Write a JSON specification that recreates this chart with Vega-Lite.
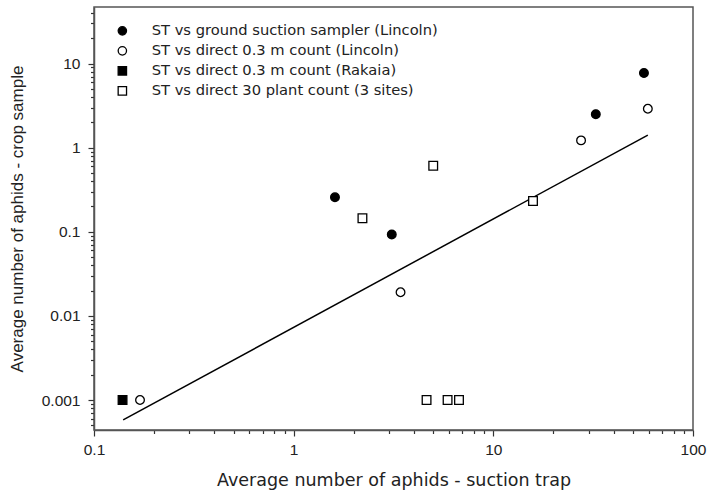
{
  "$schema": "https://vega.github.io/schema/vega-lite/v6.json",
  "width": 599,
  "height": 423,
  "autosize": "none",
  "padding": {"left": 94, "top": 7, "right": 14, "bottom": 65},
  "background": "white",
  "config": {
    "font": "Liberation Sans",
    "view": {"stroke": "#555", "strokeWidth": 1.5},
    "axis": {
      "domainColor": "#555",
      "domainWidth": 1.5,
      "ticks": true,
      "tickColor": "#333",
      "tickWidth": 1.2,
      "labelColor": "#222",
      "labelFontSize": 15.5,
      "titleColor": "#222",
      "titleFontSize": 17,
      "titleFontWeight": "normal",
      "grid": false,
      "labelOverlap": false,
      "labelFlush": false
    },
    "legend": {
      "title": null,
      "orient": "none",
      "legendX": 21,
      "legendY": 16.5,
      "padding": 0,
      "labelFont": "DejaVu Sans",
      "labelFontSize": 14.7,
      "labelColor": "#222",
      "labelOffset": 22,
      "rowPadding": 4,
      "symbolSize": 70,
      "symbolStrokeWidth": 1.3,
      "labelLimit": 400
    }
  },
  "datasets": {
    "pts": [
      {"series": "ST vs ground suction sampler (Lincoln)", "st": 1.61, "crop": 0.257},
      {"series": "ST vs ground suction sampler (Lincoln)", "st": 3.1, "crop": 0.093},
      {"series": "ST vs ground suction sampler (Lincoln)", "st": 32.6, "crop": 2.5},
      {"series": "ST vs ground suction sampler (Lincoln)", "st": 56.8, "crop": 7.7},
      {"series": "ST vs direct 0.3 m count (Lincoln)", "st": 0.17, "crop": 0.001},
      {"series": "ST vs direct 0.3 m count (Lincoln)", "st": 3.43, "crop": 0.0191},
      {"series": "ST vs direct 0.3 m count (Lincoln)", "st": 27.5, "crop": 1.22},
      {"series": "ST vs direct 0.3 m count (Lincoln)", "st": 59.4, "crop": 2.9},
      {"series": "ST vs direct 0.3 m count (Rakaia)", "st": 0.139, "crop": 0.001},
      {"series": "ST vs direct 30 plant count (3 sites)", "st": 2.21, "crop": 0.145},
      {"series": "ST vs direct 30 plant count (3 sites)", "st": 5.0, "crop": 0.61},
      {"series": "ST vs direct 30 plant count (3 sites)", "st": 15.8, "crop": 0.232},
      {"series": "ST vs direct 30 plant count (3 sites)", "st": 4.63, "crop": 0.001},
      {"series": "ST vs direct 30 plant count (3 sites)", "st": 5.9, "crop": 0.001},
      {"series": "ST vs direct 30 plant count (3 sites)", "st": 6.73, "crop": 0.001}
    ],
    "fit": [
      {"st": 0.14, "crop": 0.00058},
      {"st": 59.4, "crop": 1.41}
    ]
  },
  "resolve": {"axis": {"x": "independent", "y": "independent"}},
  "layer": [
    {
      "data": {"name": "fit"},
      "mark": {"type": "point", "opacity": 0},
      "encoding": {
        "x": {
          "field": "st", "type": "quantitative",
          "axis": {
            "orient": "bottom",
            "title": null,
            "labels": false,
            "domain": false,
            "tickSize": 3.5,
            "values": [0.2, 0.3, 0.4, 0.5, 0.6, 0.7, 0.8, 0.9, 2, 3, 4, 5, 6, 7, 8, 9, 20, 30, 40, 50, 60, 70, 80, 90]
          }
        },
        "y": {
          "field": "crop", "type": "quantitative",
          "axis": {
            "orient": "left",
            "title": null,
            "labels": false,
            "domain": false,
            "tickSize": 3.5,
            "values": [0.0005, 0.0006, 0.0007, 0.0008, 0.0009, 0.002, 0.003, 0.004, 0.005, 0.006, 0.007, 0.008, 0.009, 0.02, 0.03, 0.04, 0.05, 0.06, 0.07, 0.08, 0.09, 0.2, 0.3, 0.4, 0.5, 0.6, 0.7, 0.8, 0.9, 2, 3, 4, 5, 6, 7, 8, 9, 20, 30, 40]
          }
        }
      }
    },
    {
      "data": {"name": "fit"},
      "mark": {"type": "line", "color": "black", "strokeWidth": 1.5},
      "encoding": {
        "x": {"field": "st", "type": "quantitative", "axis": null},
        "y": {"field": "crop", "type": "quantitative", "axis": null}
      }
    },
    {
      "data": {"name": "pts"},
      "mark": {"type": "point", "filled": true, "strokeWidth": 1.3, "size": 75, "opacity": 1},
      "encoding": {
        "x": {
          "field": "st", "type": "quantitative",
          "scale": {"type": "log", "domain": [0.1, 100], "nice": false},
          "axis": {
            "orient": "bottom",
            "title": "Average number of aphids - suction trap",
            "titleFont": "DejaVu Sans",
            "titleFontSize": 17.5,
            "values": [0.1, 1, 10, 100],
            "format": "~g",
            "tickSize": 6,
            "labelPadding": 6,
            "titlePadding": 14
          }
        },
        "y": {
          "field": "crop", "type": "quantitative",
          "scale": {"type": "log", "domain": [0.00044, 47], "nice": false},
          "axis": {
            "orient": "left",
            "title": "Average number of aphids - crop sample",
            "values": [0.001, 0.01, 0.1, 1, 10],
            "format": "~g",
            "tickSize": 6,
            "labelPadding": 8,
            "titlePadding": 15
          }
        },
        "shape": {
          "field": "series", "type": "nominal",
          "scale": {
            "domain": ["ST vs ground suction sampler (Lincoln)", "ST vs direct 0.3 m count (Lincoln)", "ST vs direct 0.3 m count (Rakaia)", "ST vs direct 30 plant count (3 sites)"],
            "range": ["circle", "circle", "square", "square"]
          }
        },
        "fill": {
          "field": "series", "type": "nominal",
          "scale": {
            "domain": ["ST vs ground suction sampler (Lincoln)", "ST vs direct 0.3 m count (Lincoln)", "ST vs direct 0.3 m count (Rakaia)", "ST vs direct 30 plant count (3 sites)"],
            "range": ["black", "white", "black", "white"]
          }
        },
        "stroke": {
          "field": "series", "type": "nominal",
          "scale": {
            "domain": ["ST vs ground suction sampler (Lincoln)", "ST vs direct 0.3 m count (Lincoln)", "ST vs direct 0.3 m count (Rakaia)", "ST vs direct 30 plant count (3 sites)"],
            "range": ["black", "black", "black", "black"]
          }
        }
      }
    }
  ]
}
